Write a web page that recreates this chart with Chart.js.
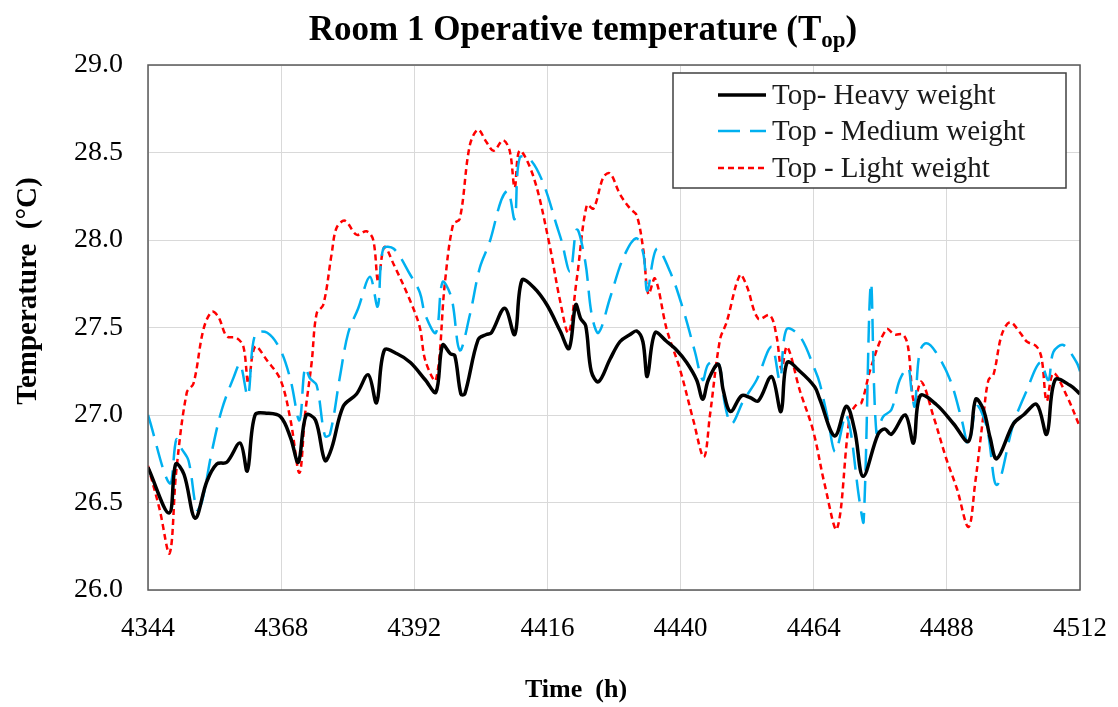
<!DOCTYPE html>
<html>
<head>
<meta charset="utf-8">
<script src="https://cdn.jsdelivr.net/npm/chart.js@4.4.1/dist/chart.umd.min.js"></script>
<style>
  html, body { margin: 0; padding: 0; background: #fff; }
  #wrap { position: relative; width: 1118px; height: 707px; }
</style>
</head>
<body>
<div id="wrap"><canvas id="topChart" width="1118" height="707"></canvas></div>
<script>
// axis ticks
const timeTicks = [4344, 4368, 4392, 4416, 4440, 4464, 4488, 4512];
const tempTicks = [26.0, 26.5, 27.0, 27.5, 28.0, 28.5, 29.0];

// Top - Heavy weight
const heavyHours = [4344, 4347.8, 4349.0, 4350.5, 4352.5, 4354.6, 4356.4, 4358.2, 4360.6, 4361.9, 4363.3, 4365.5, 4367.9,
  4369.7, 4371.1, 4372.5, 4374.2, 4375.9, 4377.1, 4379.2, 4381.6, 4383.7, 4385.2, 4386.6, 4388.9, 4391.3, 4394.0,
  4395.9, 4397.1, 4398.5, 4399.3, 4400.4, 4401.1, 4403.5, 4405.0, 4405.9, 4408.3, 4410.1, 4411.4, 4413.5, 4415.9,
  4418.3, 4419.9, 4421.1, 4422.0, 4422.9, 4423.9, 4425.2, 4427.3, 4429.1, 4430.9, 4432.1, 4433.2, 4434.0, 4435.4,
  4437.5, 4439.3, 4441.1, 4442.9, 4444.0, 4445.0, 4446.8, 4447.7, 4449.0, 4451.0, 4452.5, 4454.0, 4456.4, 4458.1,
  4459.2, 4461.5, 4464.2, 4465.1, 4467.8, 4469.9, 4471.4, 4472.9, 4475.6, 4476.8, 4478.0, 4480.5, 4482.0, 4483.2,
  4486.1, 4489.2, 4491.9, 4493.2, 4494.6, 4495.8, 4497.0, 4500.0, 4501.8, 4504.2, 4506.0, 4507.5, 4510.2, 4512];
const heavyTemps = [26.70, 26.44, 26.72, 26.66, 26.41, 26.62, 26.72, 26.73, 26.84, 26.68, 27.00, 27.01, 26.99,
  26.87, 26.73, 27.00, 26.97, 26.74, 26.81, 27.05, 27.12, 27.23, 27.07, 27.37, 27.35, 27.30, 27.20,
  27.13, 27.40, 27.35, 27.34, 27.12, 27.12, 27.43, 27.46, 27.47, 27.61, 27.46, 27.77, 27.73, 27.63,
  27.48, 27.38, 27.63, 27.55, 27.51, 27.25, 27.19, 27.32, 27.42, 27.46, 27.48, 27.42, 27.22, 27.47,
  27.42, 27.37, 27.30, 27.20, 27.09, 27.20, 27.29, 27.14, 27.02, 27.11, 27.10, 27.08, 27.22, 27.02,
  27.30, 27.25, 27.16, 27.09, 26.88, 27.05, 26.91, 26.65, 26.89, 26.92, 26.89, 27.00, 26.84, 27.11,
  27.06, 26.95, 26.85, 27.09, 27.03, 26.87, 26.75, 26.95, 27.00, 27.06, 26.89, 27.20, 27.17, 27.12];

// Top - Medium weight
const mediumHours = [4344, 4347.9, 4349.1, 4350.0, 4351.3, 4352.8, 4353.7, 4355.5, 4357.3, 4359.5, 4360.6, 4362.0,
  4363.3, 4365.5, 4367.9, 4369.7, 4371.3, 4372.3, 4373.2, 4374.4, 4375.9, 4376.8, 4378.6, 4380.1, 4381.9, 4384.0,
  4385.4, 4386.4, 4388.3, 4391.3, 4393.0, 4394.0, 4395.9, 4397.1, 4398.7, 4400.2, 4402.0, 4403.8, 4405.6, 4407.7,
  4408.9, 4410.1, 4411.0, 4412.9, 4415.3, 4417.7, 4418.5, 4420.1, 4421.3, 4422.8, 4424.0, 4425.2, 4427.3, 4429.7,
  4432.0, 4433.3, 4434.0, 4435.7, 4438.1, 4440.5, 4442.6, 4444.0, 4445.0, 4446.8, 4448.0, 4449.2, 4451.3, 4453.7,
  4456.4, 4457.9, 4459.1, 4461.5, 4464.2, 4465.1, 4466.6, 4467.9, 4469.9, 4472.3, 4473.0, 4474.3, 4475.3, 4476.5,
  4478.0, 4479.5, 4481.0, 4481.6, 4482.2, 4483.1, 4484.3, 4486.0, 4488.6, 4490.7, 4491.9, 4493.4, 4495.2, 4497.0,
  4500.0, 4502.4, 4504.8, 4506.3, 4507.2, 4509.0, 4511.4, 4512];
const mediumTemps = [27.00, 26.61, 26.86, 26.81, 26.74, 26.46, 26.50, 26.79, 27.03, 27.22, 27.29, 27.11,
  27.46, 27.47, 27.37, 27.20, 26.97, 27.27, 27.21, 27.17, 26.88, 26.89, 27.22, 27.47, 27.61, 27.79,
  27.62, 27.95, 27.95, 27.80, 27.70, 27.57, 27.47, 27.76, 27.67, 27.37, 27.57, 27.84, 27.99, 28.23,
  28.28, 28.12, 28.47, 28.46, 28.32, 28.08, 28.00, 27.82, 28.06, 27.88, 27.57, 27.47, 27.67, 27.90,
  28.01, 27.92, 27.71, 27.95, 27.82, 27.60, 27.36, 27.20, 27.29, 27.30, 27.06, 26.95, 27.08, 27.20,
  27.39, 27.20, 27.49, 27.45, 27.26, 27.18, 26.97, 26.79, 27.00, 26.50, 26.39, 27.75, 26.90, 26.99,
  27.03, 27.20, 27.27, 27.15, 27.05, 27.36, 27.41, 27.36, 27.20, 26.97, 26.83, 27.05, 26.93, 26.60,
  26.95, 27.14, 27.30, 27.20, 27.36, 27.40, 27.30, 27.25];

// Top - Light weight
const lightHours = [4344, 4346.1, 4347.9, 4349.1, 4351.0, 4352.2, 4354.0, 4355.5, 4356.7, 4358.2, 4360.0, 4361.2,
  4362.1, 4363.3, 4365.5, 4367.9, 4369.7, 4371.3, 4372.3, 4373.5, 4374.4, 4375.6, 4377.1, 4378.0, 4379.5, 4381.6,
  4383.4, 4384.6, 4385.5, 4386.6, 4388.3, 4391.3, 4393.0, 4394.0, 4395.9, 4397.5, 4399.0, 4400.2, 4402.0, 4403.5,
  4405.0, 4406.3, 4408.0, 4409.2, 4410.1, 4411.0, 4413.5, 4416.2, 4418.3, 4419.8, 4421.3, 4423.1, 4424.3, 4426.1,
  4427.3, 4429.1, 4430.9, 4432.1, 4433.3, 4434.2, 4435.4, 4437.5, 4439.9, 4442.3, 4444.2, 4445.3, 4447.1, 4448.3,
  4450.7, 4451.9, 4454.0, 4456.1, 4457.3, 4458.2, 4459.2, 4461.5, 4463.9, 4466.0, 4468.2, 4470.5, 4471.7, 4472.6,
  4474.3, 4477.1, 4478.6, 4480.1, 4481.0, 4482.1, 4483.4, 4485.6, 4487.9, 4489.8, 4491.9, 4493.1, 4494.6, 4495.5,
  4496.4, 4497.9, 4499.4, 4501.2, 4502.4, 4504.2, 4505.1, 4506.0, 4507.2, 4509.6, 4512];
const lightTemps = [26.71, 26.46, 26.21, 26.68, 27.13, 27.18, 27.49, 27.59, 27.56, 27.45, 27.44, 27.39,
  27.18, 27.39, 27.31, 27.20, 26.97, 26.67, 27.00, 27.30, 27.58, 27.63, 27.92, 28.07, 28.11, 28.03,
  28.05, 28.00, 27.76, 27.96, 27.86, 27.65, 27.50, 27.31, 27.20, 27.75, 28.09, 28.12, 28.54, 28.63,
  28.56, 28.51, 28.57, 28.51, 28.30, 28.51, 28.36, 28.00, 27.65, 27.47, 27.78, 28.20, 28.18, 28.36,
  28.38, 28.26, 28.18, 28.14, 27.94, 27.69, 27.78, 27.49, 27.26, 26.97, 26.76, 27.00, 27.43, 27.53,
  27.80, 27.74, 27.55, 27.57, 27.45, 27.26, 27.39, 27.14, 26.91, 26.60, 26.35, 26.99, 27.06, 27.07,
  27.27, 27.49, 27.46, 27.46, 27.39, 27.07, 27.19, 26.99, 26.75, 26.58, 26.36, 26.61, 27.00, 27.20,
  27.23, 27.46, 27.53, 27.47, 27.42, 27.39, 27.32, 27.08, 27.24, 27.11, 26.93];

const seriesLabels = ['Top- Heavy weight', 'Top - Medium weight', 'Top - Light weight'];

function toPoints(hours, temps) {
  return hours.map((h, i) => ({ x: h, y: temps[i] }));
}

const SERIF = '"Liberation Serif", "Times New Roman", serif';

// title, axis titles, framed legend inside the plot
const textPlugin = {
  id: 'texts',
  beforeDraw(chart) {
    const ctx = chart.ctx;
    ctx.save();
    ctx.fillStyle = '#fff';
    ctx.fillRect(0, 0, chart.width, chart.height);
    ctx.restore();
  },
  afterDraw(chart) {
    const ctx = chart.ctx;
    const a = chart.chartArea;
    ctx.save();
    ctx.fillStyle = '#000';

    // chart title with subscript
    const big = 'bold 35px ' + SERIF;
    const small = 'bold 23px ' + SERIF;
    const part1 = 'Room 1 Operative temperature (T';
    const sub = 'op';
    const part3 = ')';
    ctx.font = big;
    const w1 = ctx.measureText(part1).width;
    const w3 = ctx.measureText(part3).width;
    ctx.font = small;
    const w2 = ctx.measureText(sub).width;
    let x = 583 - (w1 + w2 + w3) / 2;
    ctx.textAlign = 'left';
    ctx.textBaseline = 'alphabetic';
    ctx.font = big;
    ctx.fillText(part1, x, 40);
    ctx.font = small;
    ctx.fillText(sub, x + w1, 47);
    ctx.font = big;
    ctx.fillText(part3, x + w1 + w2, 40);

    // axis titles
    ctx.textAlign = 'center';
    ctx.textBaseline = 'middle';
    ctx.font = 'bold 26px ' + SERIF;
    ctx.fillText('Time  (h)', 576, 690);
    ctx.save();
    ctx.translate(29, 291);
    ctx.rotate(-Math.PI / 2);
    ctx.font = 'bold 29px ' + SERIF;
    ctx.fillText('Temperature  (\u00B0C)', 0, 0);
    ctx.restore();

    // legend box
    const bx = a.right - 407, by = a.top + 8, bw = 393, bh = 115;
    ctx.fillStyle = '#fff';
    ctx.fillRect(bx, by, bw, bh);
    ctx.strokeStyle = '#404040';
    ctx.lineWidth = 1.5;
    ctx.strokeRect(bx, by, bw, bh);
    const rows = [22, 58, 95];
    chart.data.datasets.forEach((ds, i) => {
      const yy = by + rows[i];
      ctx.beginPath();
      ctx.setLineDash(ds.borderDash || []);
      ctx.strokeStyle = ds.borderColor;
      ctx.lineWidth = ds.borderWidth;
      ctx.moveTo(bx + 45, yy);
      ctx.lineTo(bx + 93, yy);
      ctx.stroke();
      ctx.setLineDash([]);
      ctx.fillStyle = '#1a1a1a';
      ctx.font = '29px ' + SERIF;
      ctx.textAlign = 'left';
      ctx.textBaseline = 'middle';
      ctx.fillText(ds.label, bx + 99, yy + 1);
    });

    // plot frame
    ctx.strokeStyle = '#595959';
    ctx.lineWidth = 1.5;
    ctx.strokeRect(a.left, a.top, a.right - a.left, a.bottom - a.top);
    ctx.restore();
  }
};

new Chart(document.getElementById('topChart'), {
  type: 'line',
  data: {
    datasets: [
      { label: seriesLabels[0], data: toPoints(heavyHours, heavyTemps), borderColor: '#000000', borderWidth: 3.5, tension: 0.35 },
      { label: seriesLabels[1], data: toPoints(mediumHours, mediumTemps), borderColor: '#00b0f0', borderWidth: 2.5, borderDash: [22, 10], tension: 0.35 },
      { label: seriesLabels[2], data: toPoints(lightHours, lightTemps), borderColor: '#ff0000', borderWidth: 2.5, borderDash: [6, 4], tension: 0.35 }
    ]
  },
  options: {
    responsive: false,
    animation: false,
    devicePixelRatio: 1,
    layout: { padding: { top: 65, right: 38, bottom: 0, left: 0 } },
    elements: { point: { radius: 0 } },
    plugins: { legend: { display: false }, title: { display: false }, tooltip: { enabled: false } },
    scales: {
      x: {
        type: 'linear',
        min: 4344, max: 4512,
        afterBuildTicks: s => { s.ticks = timeTicks.map(v => ({ value: v })); },
        afterFit: s => { s.height = 117; },
        // invisible tick marks push the labels down without widening the side padding
        grid: { color: '#d9d9d9', drawTicks: true, tickLength: 23, tickColor: 'rgba(0,0,0,0)' },
        border: { display: false },
        ticks: { color: '#000', padding: 0, font: { family: SERIF, size: 27 }, maxRotation: 0, callback: v => String(v) }
      },
      y: {
        min: 26, max: 29,
        afterBuildTicks: s => { s.ticks = tempTicks.map(v => ({ value: v })); },
        afterFit: s => { s.width = 148; },
        grid: { color: '#d9d9d9', drawTicks: false },
        border: { display: false },
        ticks: { color: '#000', padding: 25, font: { family: SERIF, size: 28 }, callback: v => v.toFixed(1) }
      }
    }
  },
  plugins: [textPlugin]
});
</script>
</body>
</html>
